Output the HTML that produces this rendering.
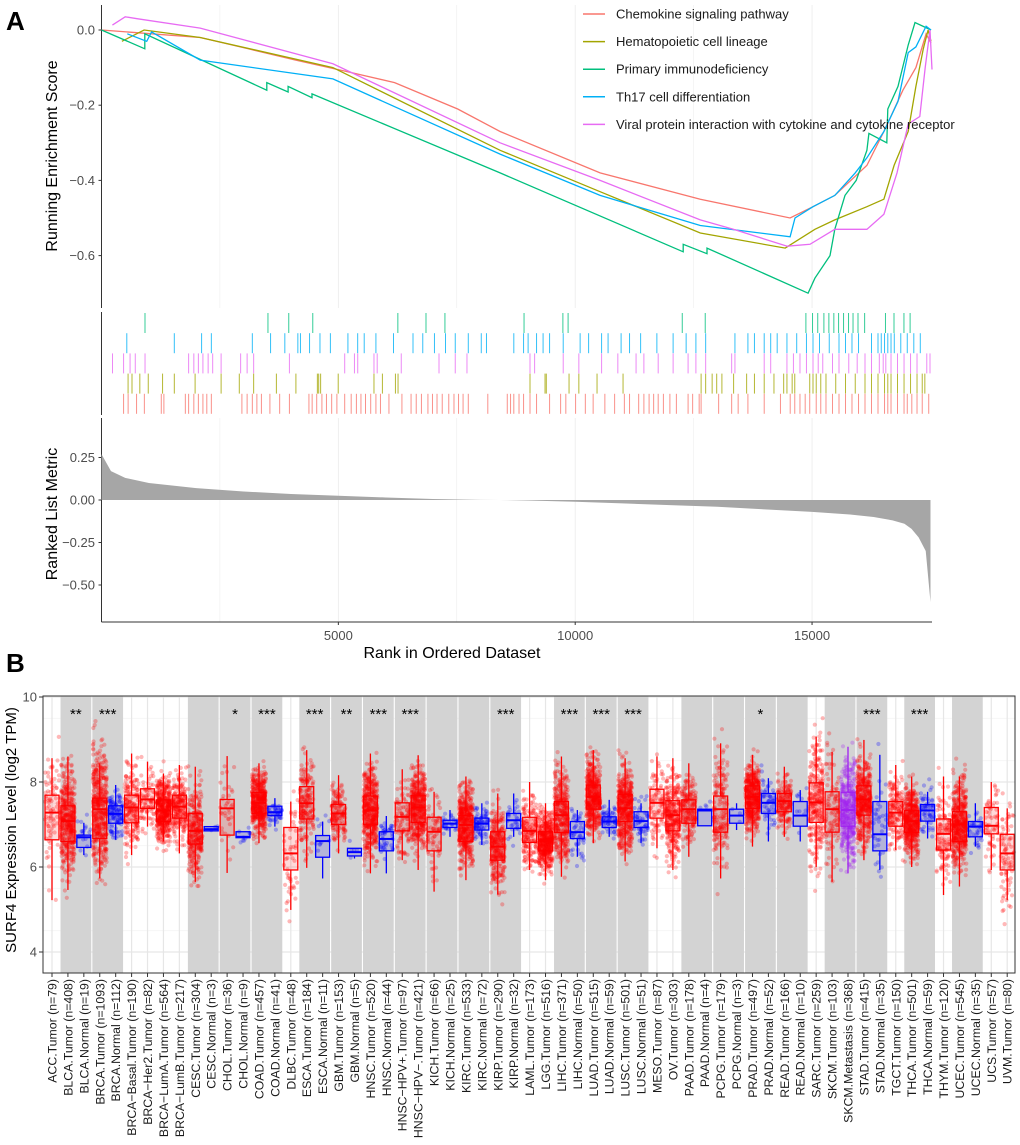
<!DOCTYPE html>
<html><head><meta charset="utf-8">
<style>
html,body{margin:0;padding:0;background:#fff;}
svg{display:block;font-family:"Liberation Sans",sans-serif;}
</style></head>
<body>
<svg id="fig" width="1020" height="1145" viewBox="0 0 1020 1145" xmlns="http://www.w3.org/2000/svg">
<text x="6" y="30" font-size="26" font-weight="bold">A</text>
<text x="6" y="672" font-size="26" font-weight="bold">B</text>
<g id="pa"></g>
<g id="pb"></g>
</svg>
<script>
// ===== Panel A data =====
const seriesNames = ["Chemokine signaling pathway","Hematopoietic cell lineage","Primary immunodeficiency","Th17 cell differentiation","Viral protein interaction with cytokine and cytokine receptor"];
const seriesColors = ["#F8766D","#A3A500","#00BF7D","#00B0F6","#E76BF3"];
const esTicks = [0.0,-0.2,-0.4,-0.6];
const esTickLabels = ["0.0","-0.2","-0.4","-0.6"];
const rankTicks = [5000,10000,15000];
const metricTicks = [0.25,0,-0.25,-0.5];
const metricTickLabels = ["0.25","0.00","-0.25","-0.50"];
const redRank = [0,1058,2084,3100,4100,5161,6187,7520,8415,10525,12640,14537,15020,15480,16157,16516,16917,17193,17408,17512];
const redES = [0,-0.01,-0.02,-0.05,-0.08,-0.11,-0.14,-0.21,-0.27,-0.38,-0.45,-0.50,-0.47,-0.44,-0.36,-0.27,-0.16,-0.10,-0.01,-0.035];
const oliveRank = [430,900,2084,4884,8415,10525,12640,14434,15060,15480,16157,16516,16732,17030,17193,17348,17450,17512];
const oliveES = [-0.03,0.0,-0.02,-0.10,-0.32,-0.43,-0.54,-0.58,-0.53,-0.505,-0.47,-0.45,-0.36,-0.27,-0.15,-0.05,0.0,-0.03];
const greenRank = [0,914,914,3489,3489,3940,3940,4443,4443,8415,12280,12280,12783,12783,14916,15060,15378,15480,15696,15932,16157,16200,16578,16600,16815,17030,17173,17512];
const greenES = [0,-0.05,-0.01,-0.16,-0.14,-0.165,-0.15,-0.18,-0.17,-0.38,-0.59,-0.57,-0.595,-0.58,-0.70,-0.66,-0.60,-0.53,-0.44,-0.40,-0.32,-0.275,-0.30,-0.21,-0.15,-0.04,0.02,0.0];
const blueRank = [545,955,1058,2084,4884,8415,10525,12640,14537,14640,15020,15480,15911,16157,16516,16815,17030,17193,17408,17512];
const blueES = [-0.01,-0.03,-0.005,-0.08,-0.13,-0.33,-0.44,-0.52,-0.55,-0.50,-0.47,-0.44,-0.38,-0.34,-0.27,-0.19,-0.06,-0.045,0.01,0.0];
const magentaRank = [230,500,750,2084,4884,8415,10525,12640,13337,14475,14957,15480,16157,16516,16793,17030,17275,17388,17490,17532];
const magentaES = [0.013,0.035,0.03,0.005,-0.09,-0.30,-0.40,-0.505,-0.53,-0.575,-0.57,-0.53,-0.53,-0.49,-0.38,-0.25,-0.23,-0.10,0.0,-0.105];
const redHits = [466,562,740,905,1262,1317,1770,1839,1949,2045,2141,2223,2319,2964,3074,3184,3280,3376,3555,3761,3967,4379,4447,4543,4653,4749,4859,4969,5134,5271,5381,5477,5573,5683,5793,5889,6068,6342,6535,6644,6754,6891,6987,7083,7193,7331,7441,7537,7633,7743,8155,8566,8635,8704,8814,8910,9046,9184,9459,9692,9802,10008,10214,10379,10626,10832,11038,11147,11340,11450,11560,11656,11752,11862,11999,12136,12383,12479,12617,12658,13028,13303,13440,13646,13990,14333,14539,14635,14745,14855,14951,15088,15184,15294,15432,15569,15706,15843,15981,16118,16255,16392,16530,16599,16667,16804,16942,17010,17106,17216,17326,17463];
const oliveHits = [561,644,809,987,1289,1537,1976,2525,2909,3212,3692,4104,4557,4585,4626,4997,5752,5930,6205,6260,9046,9363,9390,9870,10077,10461,11010,12658,12754,12891,12987,13097,13344,13619,13784,13990,14196,14401,14470,14580,14635,14951,15020,15088,15184,15294,15500,15706,15912,16118,16255,16392,16530,16599,16667,16804,16942,17079,17216,17326,17381];
const greenHits = [918,3514,3953,4460,6256,6850,7250,8920,9740,9850,12260,12745,14870,15010,15120,15250,15355,15460,15560,15665,15770,15865,15970,16110,16550,16730,16940,17070];
const blueHits = [534,1537,2113,2319,3184,3569,3870,4145,4200,4392,4612,4832,5202,5408,5546,5793,6164,6576,6782,7029,7262,7468,7743,8017,8127,8704,8910,9006,9184,9322,9459,9747,10104,10283,10557,10694,10969,11147,11381,11724,12067,12342,12548,12754,13372,13646,13784,13990,14127,14264,14470,14676,14882,15020,15157,15363,15569,15706,15843,15981,16255,16392,16461,16530,16599,16667,16736,16873,17010,17148,17285];
const magentaHits = [232,466,603,713,919,1839,1949,2045,2141,2251,2347,2525,2937,3074,3212,3967,5134,5340,5409,5752,5820,6328,7125,7468,7715,9046,9143,9747,10077,10557,10900,11285,11450,11752,12067,12383,12548,12754,13303,13372,13990,14127,14470,14607,14745,14882,15020,15130,15226,15432,15569,15775,15953,16118,16255,16420,16502,16557,16667,16804,16942,17079,17216,17422,17490];
const metricRank = [0,200,500,1000,2000,3000,4000,5000,6000,7000,8000,8400,9000,10000,11000,12000,13000,14000,15000,15800,16300,16700,16950,17100,17250,17400,17500];
const metricVal = [0.27,0.17,0.13,0.10,0.07,0.05,0.035,0.025,0.015,0.006,0.001,0,-0.003,-0.01,-0.02,-0.03,-0.04,-0.055,-0.07,-0.085,-0.10,-0.12,-0.14,-0.17,-0.22,-0.30,-0.60];

const NS="http://www.w3.org/2000/svg";
function mk(parent,tag,attrs,text){const e=document.createElementNS(NS,tag);for(const k in attrs)e.setAttribute(k,attrs[k]);if(text!==undefined)e.textContent=text;parent.appendChild(e);return e;}

const pa=document.getElementById('pa');
const xR = r => 101.5 + r*0.04737;
const yES = v => 30 - v*376;
const yM = v => 500 - v*170;
const AX0=101.5, AX1=932;
// grids top
for(const r of [2500,5000,7500,10000,12500,15000]){
  for(const [y0,y1] of [[5,308],[418,622]]){
    const g=mk(pa,'line',{x1:xR(r),x2:xR(r),y1:y0,y2:y1,stroke:'#ebebeb','stroke-width':r%5000===0?0.8:0.5});
    
    
  }
}
// axes
let ax=mk(pa,'line',{x1:AX0,x2:AX0,y1:5,y2:308,stroke:'#333','stroke-width':1});

ax=mk(pa,'line',{x1:AX0,x2:AX0,y1:312,y2:415,stroke:'#333','stroke-width':1});

ax=mk(pa,'line',{x1:AX0,x2:AX0,y1:418,y2:622,stroke:'#333','stroke-width':1});

ax=mk(pa,'line',{x1:AX0,x2:AX1,y1:622,y2:622,stroke:'#333','stroke-width':1});

esTicks.forEach((v,i)=>{
  const t=mk(pa,'text',{x:95,y:yES(v)+4.5,'font-size':13,fill:'#4d4d4d','text-anchor':'end'},esTickLabels[i].replace('-','\u2212'));
  
  mk(pa,'line',{x1:AX0-3,x2:AX0,y1:yES(v),y2:yES(v),stroke:'#333'});
});
metricTicks.forEach((v,i)=>{
  const t=mk(pa,'text',{x:95,y:yM(v)+4.5,'font-size':13,fill:'#4d4d4d','text-anchor':'end'},metricTickLabels[i].replace('-','\u2212'));
  
  mk(pa,'line',{x1:AX0-3,x2:AX0,y1:yM(v),y2:yM(v),stroke:'#333'});
});
rankTicks.forEach(r=>{
  const t=mk(pa,'text',{x:xR(r),y:640,'font-size':13,fill:'#4d4d4d','text-anchor':'middle'},String(r));
  
  mk(pa,'line',{x1:xR(r),x2:xR(r),y1:622,y2:625,stroke:'#333'});
});
let tt=mk(pa,'text',{x:0,y:0,'font-size':16,'text-anchor':'middle',transform:'translate(57,156) rotate(-90)'},'Running Enrichment Score');

tt=mk(pa,'text',{x:0,y:0,'font-size':16,'text-anchor':'middle',transform:'translate(57,514) rotate(-90)'},'Ranked List Metric');

tt=mk(pa,'text',{x:452,y:658,'font-size':16,'text-anchor':'middle'},'Rank in Ordered Dataset');


// metric area
let d='M'+xR(metricRank[0])+','+yM(0);
metricRank.forEach((r,i)=>{d+=' L'+xR(r)+','+yM(metricVal[i]);});
d+=' L'+xR(metricRank[metricRank.length-1])+','+yM(0)+' Z';
const area=mk(pa,'path',{d:d,fill:'#a6a6a6',stroke:'none'});


// ES lines (order: draw so magenta on top similar)
const esData=[[redRank,redES],[oliveRank,oliveES],[greenRank,greenES],[blueRank,blueES],[magentaRank,magentaES]];
const lineNames=['chemokine-es-line','hematopoietic-es-line','primary-immunodeficiency-es-line','th17-es-line','viral-protein-es-line'];
esData.forEach(([rs,vs],i)=>{
  const pts=rs.map((r,j)=>xR(r).toFixed(1)+','+yES(vs[j]).toFixed(1)).join(' ');
  const pl=mk(pa,'polyline',{points:pts,fill:'none',stroke:seriesColors[i],'stroke-width':1.3});
  
  
});
// rug
const hits=[greenHits,blueHits,magentaHits,oliveHits,redHits];
const hitColors=[seriesColors[2],seriesColors[3],seriesColors[4],seriesColors[1],seriesColors[0]];
const hitNames=['primary-immunodeficiency-hits','th17-hits','viral-protein-hits','hematopoietic-hits','chemokine-hits'];
hits.forEach((arr,i)=>{
  const g=mk(pa,'g',{stroke:hitColors[i],'stroke-width':1,'stroke-opacity':0.8});
  
  const y0=313+i*20.2;
  arr.forEach(r=>{mk(g,'line',{x1:xR(r),x2:xR(r),y1:y0,y2:y0+20});});
});
// legend
seriesNames.forEach((n,i)=>{
  const y=14+i*27.6;
  const g=mk(pa,'g',{});
  
  mk(g,'line',{x1:583,x2:605,y1:y,y2:y,stroke:seriesColors[i],'stroke-width':1.5});
  mk(g,'text',{x:616,y:y+4.5,'font-size':13,fill:'#1a1a1a'},n);
});

// ===== Panel B data =====
const catNames=["ACC.Tumor (n=79)","BLCA.Tumor (n=408)","BLCA.Normal (n=19)","BRCA.Tumor (n=1093)","BRCA.Normal (n=112)","BRCA\u2212Basal.Tumor (n=190)","BRCA\u2212Her2.Tumor (n=82)","BRCA\u2212LumA.Tumor (n=564)","BRCA\u2212LumB.Tumor (n=217)","CESC.Tumor (n=304)","CESC.Normal (n=3)","CHOL.Tumor (n=36)","CHOL.Normal (n=9)","COAD.Tumor (n=457)","COAD.Normal (n=41)","DLBC.Tumor (n=48)","ESCA.Tumor (n=184)","ESCA.Normal (n=11)","GBM.Tumor (n=153)","GBM.Normal (n=5)","HNSC.Tumor (n=520)","HNSC.Normal (n=44)","HNSC\u2212HPV+.Tumor (n=97)","HNSC\u2212HPV\u2212.Tumor (n=421)","KICH.Tumor (n=66)","KICH.Normal (n=25)","KIRC.Tumor (n=533)","KIRC.Normal (n=72)","KIRP.Tumor (n=290)","KIRP.Normal (n=32)","LAML.Tumor (n=173)","LGG.Tumor (n=516)","LIHC.Tumor (n=371)","LIHC.Normal (n=50)","LUAD.Tumor (n=515)","LUAD.Normal (n=59)","LUSC.Tumor (n=501)","LUSC.Normal (n=51)","MESO.Tumor (n=87)","OV.Tumor (n=303)","PAAD.Tumor (n=178)","PAAD.Normal (n=4)","PCPG.Tumor (n=179)","PCPG.Normal (n=3)","PRAD.Tumor (n=497)","PRAD.Normal (n=52)","READ.Tumor (n=166)","READ.Normal (n=10)","SARC.Tumor (n=259)","SKCM.Tumor (n=103)","SKCM.Metastasis (n=368)","STAD.Tumor (n=415)","STAD.Normal (n=35)","TGCT.Tumor (n=150)","THCA.Tumor (n=501)","THCA.Normal (n=59)","THYM.Tumor (n=120)","UCEC.Tumor (n=545)","UCEC.Normal (n=35)","UCS.Tumor (n=57)","UVM.Tumor (n=80)"];
const catN=[79,408,19,1093,112,190,82,564,217,304,3,36,9,457,41,48,184,11,153,5,520,44,97,421,66,25,533,72,290,32,173,516,371,50,515,59,501,51,87,303,178,4,179,3,497,52,166,10,259,103,368,415,35,150,501,59,120,545,35,57,80];
const catType=["T","T","N","T","N","T","T","T","T","T","N","T","N","T","N","T","T","N","T","N","T","N","T","T","T","N","T","N","T","N","T","T","T","N","T","N","T","N","T","T","T","N","T","N","T","N","T","N","T","T","M","T","N","T","T","N","T","T","N","T","T"];
const boxMed=[7.28,7.08,6.7,7.36,7.25,7.4,7.59,7.33,7.42,6.85,6.89,7.38,6.71,7.51,7.29,6.32,7.5,6.61,7.26,6.35,7.33,6.66,7.18,7.4,6.83,7.02,6.99,7.02,6.48,7.1,6.85,6.62,7.22,6.82,7.65,7.07,7.38,7.08,7.51,7.22,7.36,7.33,7.36,7.21,7.65,7.51,7.55,7.21,7.52,7.36,7.34,7.59,6.77,7.28,7.08,7.33,6.78,7.0,6.95,6.97,6.32];
const boxQ1=[6.64,6.6,6.46,6.67,7.03,7.04,7.38,7.07,7.15,6.54,6.85,6.75,6.69,7.26,7.21,5.93,7.13,6.23,7.0,6.26,7.0,6.38,6.85,7.05,6.38,6.93,6.6,6.87,6.16,6.91,6.58,6.38,6.81,6.67,7.36,6.93,7.07,6.93,7.15,6.85,7.03,6.97,6.82,7.03,7.38,7.26,7.3,6.96,7.05,6.82,6.96,7.22,6.38,6.96,6.81,7.08,6.4,6.6,6.71,6.78,5.93];
const boxQ3=[7.69,7.44,6.75,7.62,7.44,7.69,7.84,7.58,7.69,7.26,6.95,7.59,6.83,7.75,7.43,6.93,7.89,6.74,7.47,6.44,7.67,6.83,7.51,7.68,7.17,7.1,7.21,7.15,6.83,7.26,7.17,6.83,7.54,7.07,7.93,7.18,7.71,7.3,7.83,7.56,7.58,7.36,7.67,7.36,7.91,7.73,7.73,7.54,7.98,7.77,7.76,7.91,7.54,7.54,7.33,7.47,7.13,7.3,7.07,7.4,6.77];
const boxLo=[5.22,5.46,6.28,5.73,6.64,6.28,6.95,6.6,6.32,5.65,6.85,5.86,6.69,6.56,6.95,4.99,5.98,5.73,6.32,6.2,5.85,5.85,6.16,5.93,5.42,6.71,5.69,6.52,5.35,6.71,5.93,5.69,5.77,6.24,6.56,6.71,6.13,6.56,6.44,5.93,6.24,6.97,5.73,6.87,6.48,6.6,6.71,6.6,6.0,5.65,5.85,6.16,5.93,6.4,6.0,6.67,5.34,5.54,6.48,5.93,5.22];
const boxHi=[8.56,8.6,7.04,8.44,7.93,8.67,8.48,8.2,8.4,8.36,6.95,8.61,6.83,8.44,7.62,7.54,8.75,7.07,8.16,6.44,8.67,7.2,8.3,8.63,7.77,7.34,8.13,7.5,7.73,7.73,8.0,7.5,8.6,7.34,8.75,7.58,8.56,7.5,8.6,8.56,8.44,7.36,8.91,7.5,8.64,8.09,8.36,7.81,9.07,8.71,8.83,8.99,8.64,8.4,8.13,7.77,8.13,8.13,7.5,8.0,7.38];
const sigLabels=[["BLCA","**",1,2],["BRCA","***",3,4],["CHOL","*",11,12],["COAD","***",13,14],["ESCA","***",16,17],["GBM","**",18,19],["HNSC","***",20,21],["HNSC-HPV","***",22,23],["KIRP","***",28,29],["LIHC","***",32,33],["LUAD","***",34,35],["LUSC","***",36,37],["PRAD","*",44,45],["STAD","***",51,52],["THCA","***",54,55]];
const bandSpans=[[1,2],[3,4],[9,10],[11,12],[13,14],[16,17],[18,19],[20,21],[22,23],[24,25],[26,27],[28,29],[32,33],[34,35],[36,37],[40,41],[42,43],[44,45],[46,47],[49,50],[51,52],[54,55],[57,58]];
const yTicksB=[4,6,8,10];

const pb=document.getElementById('pb');
const BX0=43,BX1=1015,BY0=696,BY1=973;
const xC = i => 52 + i*15.92;
const yV = v => 697 + (10-v)*42.5;
const bg=mk(pb,'rect',{x:BX0,y:BY0,width:BX1-BX0,height:BY1-BY0,fill:'#fff'});

// grid
for(let v=3.5;v<=10;v+=1){const l=mk(pb,'line',{x1:BX0,x2:BX1,y1:yV(v),y2:yV(v),stroke:'#f2f2f2','stroke-width':0.7});}
yTicksB.forEach(v=>{mk(pb,'line',{x1:BX0,x2:BX1,y1:yV(v),y2:yV(v),stroke:'#e6e6e6','stroke-width':1.2});});
catNames.forEach((n,i)=>{mk(pb,'line',{x1:xC(i),x2:xC(i),y1:BY0,y2:BY1,stroke:'#e6e6e6','stroke-width':1.2});});
// bands
bandSpans.forEach(([a,b])=>{
  const r=mk(pb,'rect',{x:xC(a)-7.4,y:BY0+0.5,width:xC(b)-xC(a)+14.8,height:BY1-BY0-1,fill:'#d3d3d3'});
  
});
// points (deterministic jitter derived from box stats)
let seed=12345;
function rnd(){seed=(seed*1103515245+12345)%2147483648;return seed/2147483648;}
const colOf={T:'#ff0000',N:'#0000ff',M:'#a020f0'};
catNames.forEach((n,i)=>{
  const g=mk(pb,'g',{fill:colOf[catType[i]],'fill-opacity':0.28});
  
  const sd=(boxQ3[i]-boxQ1[i])/1.35;
  const cnt=Math.min(catN[i],450);
  for(let k=0;k<cnt;k++){
    let z=(rnd()+rnd()+rnd()+rnd()-2)*1.73;
    let v=boxMed[i]+z*sd;
    const jx=xC(i)+(rnd()-0.5)*14;
    mk(g,'circle',{cx:jx.toFixed(1),cy:yV(v).toFixed(1),r:2.1});
  }
});
// boxes
catNames.forEach((n,i)=>{
  const c=colOf[catType[i]];
  const g=mk(pb,'g',{stroke:c,'stroke-width':1.3});
  
  
  const x=xC(i),w=14;
  mk(g,'line',{x1:x,x2:x,y1:yV(boxHi[i]),y2:yV(boxQ3[i])});
  mk(g,'line',{x1:x,x2:x,y1:yV(boxQ1[i]),y2:yV(boxLo[i])});
  mk(g,'rect',{x:x-w/2,y:yV(boxQ3[i]),width:w,height:yV(boxQ1[i])-yV(boxQ3[i]),fill:c,'fill-opacity':0.15});
  mk(g,'line',{x1:x-w/2,x2:x+w/2,y1:yV(boxMed[i]),y2:yV(boxMed[i]),'stroke-width':2});
});
// stars
sigLabels.forEach(([k,s,a,b])=>{
  const t=mk(pb,'text',{x:(xC(a)+xC(b))/2,y:719,'font-size':15,'text-anchor':'middle',fill:'#000'},s);
  
});
// border
const bd=mk(pb,'rect',{x:BX0,y:BY0,width:BX1-BX0,height:BY1-BY0,fill:'none',stroke:'#333','stroke-width':1});

yTicksB.forEach(v=>{
  mk(pb,'line',{x1:BX0-4,x2:BX0,y1:yV(v),y2:yV(v),stroke:'#333'});
  const t=mk(pb,'text',{x:BX0-6,y:yV(v)+4.5,'font-size':13,fill:'#4d4d4d','text-anchor':'end'},String(v));
  
});
catNames.forEach((n,i)=>{
  mk(pb,'line',{x1:xC(i),x2:xC(i),y1:BY1,y2:BY1+4,stroke:'#333'});
  const t=mk(pb,'text',{x:0,y:0,'font-size':12.3,fill:'#1a1a1a','text-anchor':'end',transform:'translate('+(xC(i)+4.5)+','+(BY1+6)+') rotate(-90)'},n);
  
});
tt=mk(pb,'text',{x:0,y:0,'font-size':15,'text-anchor':'middle',transform:'translate(16,830) rotate(-90)'},'SURF4 Expression Level (log2 TPM)');

</script>
</body></html>
